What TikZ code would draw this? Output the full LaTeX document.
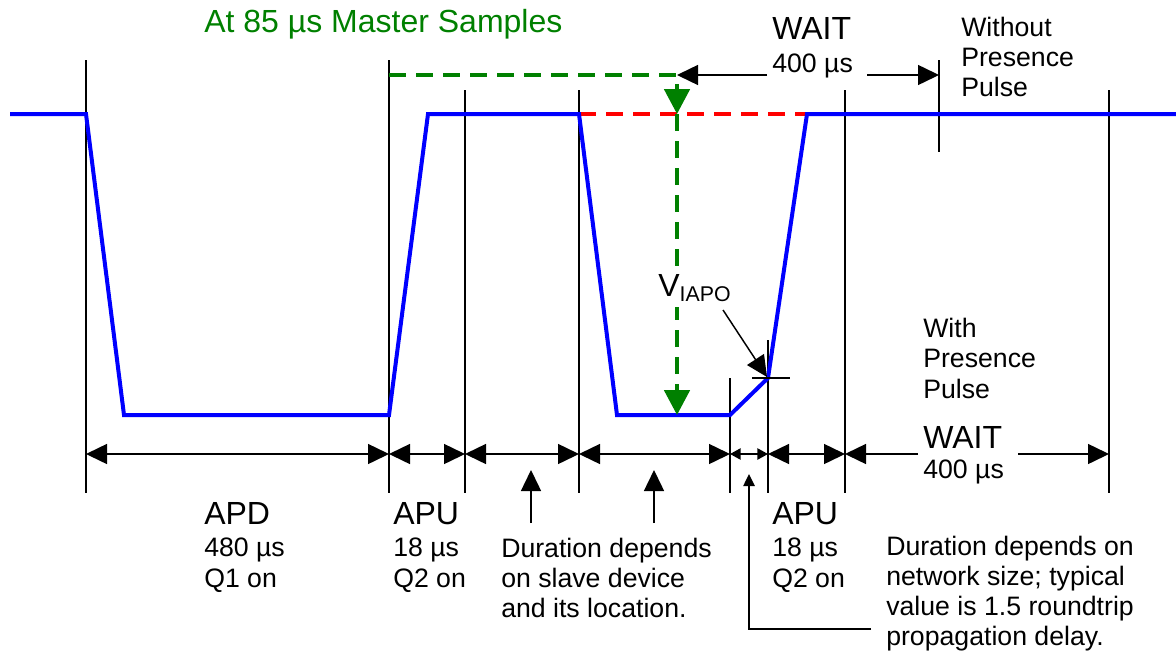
\documentclass[tikz,border=0pt]{standalone}
\usepackage{fontspec}
\setmainfont{Liberation Sans}
\usetikzlibrary{arrows.meta}
\definecolor{sigblue}{RGB}{0,0,255}
\definecolor{mgreen}{RGB}{0,128,0}
\definecolor{mred}{RGB}{255,0,0}
\begin{document}
\begin{tikzpicture}[x=0.75pt,y=-0.75pt,
  sig/.style={sigblue,line width=3pt,line join=miter},
  tickline/.style={black,line width=1.1pt},
  bigtip/.tip={Triangle[length=15.75pt,width=15pt]},
  smalltip/.tip={Triangle[length=8pt,width=8.5pt]},
  greentip/.tip={Triangle[length=18.75pt,width=19pt]},
  dimline/.style={tickline,bigtip-bigtip},
  smalldim/.style={tickline,smalltip-smalltip},
  gdash/.style={mgreen,line width=3pt,dash pattern=on 12.75pt off 7.5pt},
  rdash/.style={mred,line width=3pt,dash pattern=on 12.75pt off 7.5pt},
  big/.style={inner sep=0pt,anchor=base west,font=\fontsize{24pt}{28pt}\selectfont},
  small/.style={inner sep=0pt,anchor=base west,font=\fontsize{20pt}{24pt}\selectfont},
]
\useasboundingbox (0,0) rectangle (1176,653);

% vertical reference lines
\foreach \n/\x/\t in {a/86/60, b/389/60, c/465/90, d/579/90, e/730/378, f/768/340, g/845/90, h/1109/90} {
  \coordinate (\n-top) at (\x,\t);
  \coordinate (\n-bot) at (\x,493);
  \coordinate (\n-dim) at (\x,454);
  \draw[tickline] (\n-top) -- (\n-bot);
}
\coordinate (w-top) at (939,60);
\coordinate (w-bot) at (939,152);
\draw[tickline] (w-top) -- (w-bot);

% red dashed high level
\coordinate (r1) at (579,114);
\coordinate (r2) at (807,114);
\draw[rdash] (r1) -- (r2);

% blue waveform
\draw[sig] (10,114) -- (86,114) -- (124,415) -- (389,415) -- (428,114) -- (579,114)
  -- (617,415) -- (730,415) -- (768,378) -- (807,114) -- (1176,114);

% V_IAPO marker
\coordinate (vx1) at (752,378);
\coordinate (vx2) at (790,378);
\draw[tickline] (vx1) -- (vx2);

% green sampling lines
\coordinate (g0) at (389,75);
\coordinate (g1) at (677,75);
\coordinate (g2) at (677,84);
\coordinate (g3) at (677,114);
\coordinate (g4) at (677,415);
\draw[gdash] (g0) -- (g1);
\draw[gdash,-greentip] (g2) -- (g3);
\draw[gdash,-greentip] (g3) -- (g4);

% V_IAPO label
\node[big,fill=white,inner ysep=4pt] (vlabel) at (658,296)
  {V\raisebox{-3.75pt}{\fontsize{16pt}{16pt}\selectfont IAPO}};
\coordinate (vfrom) at (723,310);
\coordinate (vto) at (767,377);
\draw[tickline,-bigtip] (vfrom) -- (vto);

% top WAIT arrow
\coordinate (tw1) at (767,75);
\coordinate (tw2) at (867,75);
\coordinate (tw3) at (939,75);
\draw[tickline,-bigtip] (tw1) -- (g1);
\draw[tickline,-bigtip] (tw2) -- (tw3);
\node[big] (twait) at (772,39) {WAIT};
\node[small] (tus) at (772,72) {400 µs};

% dimension line
\draw[dimline] (a-dim) -- (b-dim);
\draw[dimline] (b-dim) -- (c-dim);
\draw[dimline] (c-dim) -- (d-dim);
\draw[dimline] (d-dim) -- (e-dim);
\draw[smalldim] (e-dim) -- (f-dim);
\draw[dimline] (f-dim) -- (g-dim);
\coordinate (bw1) at (918,454);
\coordinate (bw2) at (1018,454);
\draw[tickline,-bigtip] (bw1) -- (g-dim);
\draw[tickline,-bigtip] (bw2) -- (h-dim);
\node[big] (bwait) at (923,448) {WAIT};
\node[small] (bus) at (923,478) {400 µs};

% pointer arrows
\coordinate (p1t) at (531,470);
\coordinate (p1b) at (531,523);
\draw[tickline,-bigtip] (p1b) -- (p1t);
\coordinate (p2t) at (654,470);
\coordinate (p2b) at (654,523);
\draw[tickline,-bigtip] (p2b) -- (p2t);
\coordinate (p3t) at (749,474);
\coordinate (p3c) at (749,629);
\coordinate (p3e) at (871,629);
\draw[tickline,-{Triangle[length=9pt,width=8.5pt]}] (p3e) -- (p3c) -- (p3t);

% texts
\node[big,text=mgreen] (title) at (204,32) {At 85 µs Master Samples};

\node[small] (wo1) at (961,36) {Without};
\node[small] (wo2) at (961,66) {Presence};
\node[small] (wo3) at (961,96) {Pulse};

\node[small] (wi1) at (923,337) {With};
\node[small] (wi2) at (923,367) {Presence};
\node[small] (wi3) at (923,398) {Pulse};

\node[big] (apd1) at (204,524) {APD};
\node[small] (apd2) at (204,556) {480 µs};
\node[small] (apd3) at (204,587) {Q1 on};

\node[big] (apua1) at (393,524) {APU};
\node[small] (apua2) at (393,556) {18 µs};
\node[small] (apua3) at (393,587) {Q2 on};

\node[big] (apub1) at (772,524) {APU};
\node[small] (apub2) at (772,556) {18 µs};
\node[small] (apub3) at (772,587) {Q2 on};

\node[small] (dl1) at (501,557) {Duration depends};
\node[small] (dl2) at (501,587) {on slave device};
\node[small] (dl3) at (501,617) {and its location.};

\node[small] (dr1) at (886,555) {Duration depends on};
\node[small] (dr2) at (886,585) {network size; typical};
\node[small] (dr3) at (886,615) {value is 1.5 roundtrip};
\node[small] (dr4) at (886,645) {propagation delay.};
\end{tikzpicture}
\end{document}
